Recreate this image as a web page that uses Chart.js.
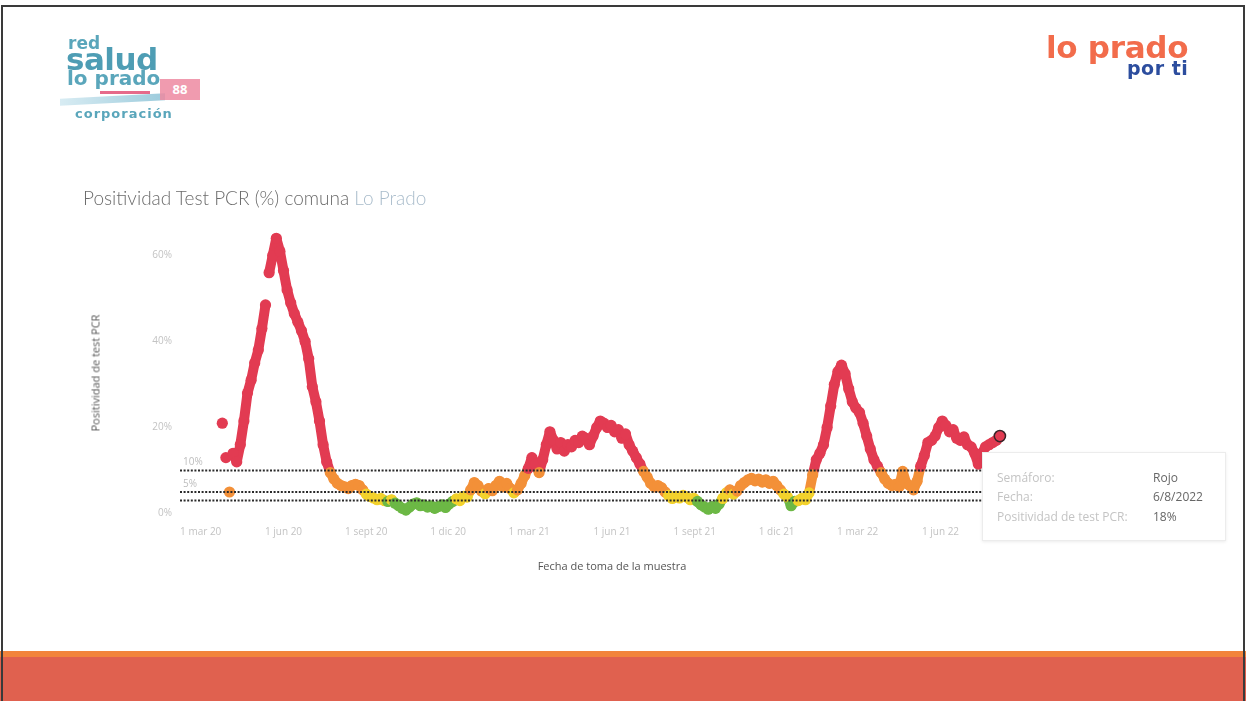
<!DOCTYPE html>
<html lang="es">
<head>
<meta charset="utf-8">
<script src="https://cdn.jsdelivr.net/npm/chart.js@4.4.1/dist/chart.umd.min.js"></script>
<style>
  html, body { margin: 0; padding: 0; background: #fff; }
  body { width: 1246px; height: 701px; position: relative; overflow: hidden; font-family: "Open Sans", Lato, sans-serif; }
  #frame { position: absolute; left: 1px; top: 5px; width: 1240px; height: 700px; border-left: 2px solid #3a3a3a; border-top: 2px solid #3a3a3a; border-right: 2px solid #3a3a3a; }
  #band1 { position: absolute; left: 0; top: 651px; width: 1246px; height: 7px; background: #f2843c; }
  #band2 { position: absolute; left: 0; top: 657px; width: 1246px; height: 44px; background: #e0614f; }
  #chartwrap { position: absolute; left: 0; top: 0; width: 1246px; height: 701px; }
  .abs { position: absolute; white-space: nowrap; }
  #title { left: 83px; top: 186px; font-size: 19px; color: #6b6b6b; font-family: Lato, "Open Sans", sans-serif; font-weight: 300; }
  #title span { color: #a9bccb; }
  #ytitle { left: 95px; top: 373px; font-size: 11px; color: #555; transform: translate(-50%, -50%) rotate(-90deg); }
  #xtitle { left: 612px; top: 565px; font-size: 11px; color: #555; transform: translate(-50%, -50%); }
  #tip { left: 982px; top: 452px; width: 242px; height: 87px; background: #fff; border: 1px solid #ececec; box-shadow: 0 1px 3px rgba(0,0,0,0.08); font-size: 12px; }
  #tip .l { position: absolute; left: 14px; color: #c4c4c4; }
  #tip .v { position: absolute; left: 170px; color: #666; }
  /* logos */
  #lg-red { left: 68px; top: 35px; font-size: 17px; font-weight: bold; color: #5aa6bb; font-family: "DejaVu Sans", sans-serif; line-height: 17px; }
  #lg-salud { left: 66px; top: 44px; font-size: 31px; font-weight: bold; color: #4e9db4; font-family: "DejaVu Sans", sans-serif; line-height: 31px; letter-spacing: -0.5px; }
  #lg-prado { left: 67px; top: 68px; font-size: 20px; font-weight: bold; color: #5aa6bb; font-family: "DejaVu Sans", sans-serif; line-height: 20px; }
  #lg-box { left: 160px; top: 79px; width: 40px; height: 21px; background: #ee8aa2; color: #fff; font-size: 13px; font-weight: bold; text-align: center; line-height: 21px; opacity: 0.85; }
  #lg-pink { left: 100px; top: 91px; width: 50px; height: 3px; background: #e66a8a; }
  #lg-swoosh { left: 60px; top: 96px; width: 105px; height: 7px; background: linear-gradient(90deg, #d8ecf3, #9ccbdc); transform: skewY(-3deg); }
  #lg-corp { left: 75px; top: 106px; font-size: 13px; color: #5aa6bb; letter-spacing: 1px; font-weight: bold; font-family: "DejaVu Sans", sans-serif; }
  #lp1 { left: 1046px; top: 29px; font-size: 31px; font-weight: bold; color: #f26c4b; font-family: "DejaVu Sans", sans-serif; letter-spacing: -0.3px; }
  #lp2 { left: 1127px; top: 57px; font-size: 19px; font-weight: bold; color: #2c4d9e; font-family: "DejaVu Sans", sans-serif; letter-spacing: 0.5px; }
</style>
</head>
<body>
<div id="chartwrap"><canvas id="c" width="1246" height="701"></canvas></div>

<div class="abs" id="lg-swoosh"></div>
<div class="abs" id="lg-red">red</div>
<div class="abs" id="lg-salud">salud</div>
<div class="abs" id="lg-prado">lo prado</div>
<div class="abs" id="lg-pink"></div>
<div class="abs" id="lg-box">88</div>
<div class="abs" id="lg-corp">corporación</div>
<div class="abs" id="lp1">lo prado</div>
<div class="abs" id="lp2">por ti</div>

<div class="abs" id="title">Positividad Test PCR (%) comuna <span>Lo Prado</span></div>
<div class="abs" id="ytitle">Positividad de test PCR</div>
<div class="abs" id="xtitle">Fecha de toma de la muestra</div>

<div class="abs" id="tip">
  <div class="l" style="top:16px">Semáforo:</div><div class="v" style="top:16px">Rojo</div>
  <div class="l" style="top:35px">Fecha:</div><div class="v" style="top:35px">6/8/2022</div>
  <div class="l" style="top:55px">Positividad de test PCR:</div><div class="v" style="top:55px">18%</div>
</div>

<div id="band1" class="abs"></div>
<div id="band2" class="abs"></div>
<div id="frame"></div>

<script>
// ---- data ----
// days counted from 1 mar 2020; first sample 25 mar 2020, one sample every 4 days, last 6 ago 2022
const diaInicio = 24;
const pasoDias = 4;
const positividad = [
  21, 13, 5, 14, 12, 16, 21.5, 28, 31, 35,
  38, 43, 48.5, 56, 60, 64, 61, 56.5, 52, 49,
  46.5, 44.5, 42.5, 40, 36, 29.5, 26, 21.5, 16, 12,
  9.5, 8, 7, 6.5, 6.2, 5.8, 6.5, 6.8, 6.5, 5.5,
  4.5, 4, 3.6, 3.2, 3.5, 3.0, 2.8, 3.2, 2.4, 1.8,
  1.2, 0.8, 1.5, 2.2, 2.5, 1.8, 2.0, 1.5, 1.8, 1.2,
  1.6, 2.0, 1.4, 2.2, 2.8, 3.4, 3.0, 4.0, 3.8, 5.5,
  7.2, 6.5, 5.2, 4.6, 5.8, 5.3, 6.5, 7.5, 6.2, 7.0,
  5.8, 4.8, 5.5, 7.0, 8.8, 10.5, 13, 11.5, 9.5, 12.5,
  16, 19, 17, 15, 16.5, 14.5, 16, 15.5, 17, 16.5,
  18, 17.5, 16, 18, 20, 21.5, 21, 20, 20.5, 19,
  19.5, 17.5, 18.5, 16, 14.5, 13, 11.5, 9.8, 8.5, 7,
  6.2, 6.5, 6, 5, 4.2, 3.5, 4, 3.6, 4.2, 3.8,
  3.2, 3.5, 2.8, 2.0, 1.5, 1.0, 1.6, 1.2, 2.2, 3.5,
  4.8, 5.5, 4.5, 5.2, 6.5, 7.2, 7.8, 8.2, 7.6, 8.0,
  7.3, 7.8, 7.0, 7.5, 6.5, 5.5, 4.5, 3.8, 1.8, 2.8,
  3.0, 3.5, 3.2, 4.8, 9, 12.5, 14, 16, 20, 25,
  30, 33, 34.5, 32.5, 29, 26, 24.5, 23.5, 21, 18,
  15, 12.5, 11, 9.5, 8, 7, 6.5, 6.8, 6.2, 9.8,
  7, 6.5, 5.5, 7.5, 11, 13.5, 16.5, 17, 18, 20,
  21.5, 20.5, 19, 19.5, 17.5, 17, 17.8, 16, 15.5, 14,
  11.5, 14, 15.5, 16, 16.5, 17, 18
];
const diasTicksX = [0, 92, 184, 275, 365, 457, 549, 640, 730, 822];
const etiquetasX = ['1 mar 20', '1 jun 20', '1 sept 20', '1 dic 20', '1 mar 21', '1 jun 21', '1 sept 21', '1 dic 21', '1 mar 22', '1 jun 22'];
const ticksY = [0, 20, 40, 60];
const umbrales = [10, 5, 3];
const etiquetasUmbral = ['10%', '5%', ''];

// ---- styling ----
const C_ROJO = '#e23b52', C_NARANJA = '#f39038', C_AMARILLO = '#f3d22c', C_VERDE = '#6cb845';
function colorSemaforo(v) {
  if (v >= 10) return C_ROJO;
  if (v >= 5) return C_NARANJA;
  if (v >= 3) return C_AMARILLO;
  return C_VERDE;
}

const puntos = positividad.map((v, i) => ({ x: diaInicio + i * pasoDias, y: v }));
const X_MIN = -23, X_MAX = 900;

const datasets = [];
umbrales.forEach((u) => {
  datasets.push({
    type: 'line',
    data: [{ x: X_MIN, y: u }, { x: X_MAX, y: u }],
    borderColor: '#2a2a2a',
    borderWidth: 2,
    borderDash: [2, 1.6],
    pointRadius: 0,
    order: 0
  });
});
datasets.push({
  type: 'line',
  data: puntos,
  showLine: true,
  borderWidth: 10,
  borderCapStyle: 'round',
  borderJoinStyle: 'round',
  segment: {
    borderColor: (ctx) => {
      const a = ctx.p0.parsed.y, b = ctx.p1.parsed.y;
      if (Math.abs(a - b) > 7) return 'rgba(0,0,0,0)';
      return colorSemaforo((a + b) / 2);
    }
  },
  pointRadius: 5.6,
  pointBackgroundColor: (ctx) => colorSemaforo(ctx.raw ? ctx.raw.y : 0),
  pointBorderColor: (ctx) => ctx.dataIndex === positividad.length - 1 ? '#3a2328' : 'rgba(0,0,0,0)',
  pointBorderWidth: (ctx) => ctx.dataIndex === positividad.length - 1 ? 1.5 : 0,
  order: 1
});

const etiquetasUmbralPlugin = {
  id: 'etiquetasUmbral',
  afterDatasetsDraw(chart) {
    const { ctx, scales } = chart;
    ctx.save();
    ctx.font = '10px "Open Sans", sans-serif';
    ctx.fillStyle = '#bdbdbd';
    ctx.textBaseline = 'bottom';
    umbrales.forEach((u, i) => {
      if (!etiquetasUmbral[i]) return;
      const y = scales.y.getPixelForValue(u);
      ctx.fillText(etiquetasUmbral[i], chart.chartArea.left + 3, y - 3);
    });
    ctx.restore();
  }
};

new Chart(document.getElementById('c'), {
  type: 'scatter',
  data: { datasets },
  plugins: [etiquetasUmbralPlugin],
  options: {
    responsive: false,
    animation: false,
    devicePixelRatio: 1,
    layout: { padding: { left: 80, top: 229.7, right: 235.3, bottom: 158.9 } },
    plugins: { legend: { display: false }, tooltip: { enabled: false } },
    scales: {
      x: {
        type: 'linear',
        min: X_MIN,
        max: X_MAX,
        grid: { display: false, drawTicks: false },
        border: { display: false },
        afterBuildTicks: (s) => { s.ticks = diasTicksX.map((v) => ({ value: v })); },
        afterFit: (s) => { s.height = 20; },
        ticks: {
          padding: 4,
          color: '#c3c3c3',
          font: { size: 10, family: '"Open Sans", sans-serif' },
          maxRotation: 0,
          autoSkip: false,
          callback: (v) => { const i = diasTicksX.indexOf(v); return i >= 0 ? etiquetasX[i] : ''; }
        }
      },
      y: {
        min: -2,
        max: 66,
        grid: { display: false, drawTicks: false },
        border: { display: false },
        afterBuildTicks: (s) => { s.ticks = ticksY.map((v) => ({ value: v })); },
        afterFit: (s) => { s.width = 100; },
        ticks: {
          padding: 8,
          color: '#c3c3c3',
          font: { size: 10, family: '"Open Sans", sans-serif' },
          callback: (v) => v + '%'
        }
      }
    }
  }
});
</script>
</body>
</html>
